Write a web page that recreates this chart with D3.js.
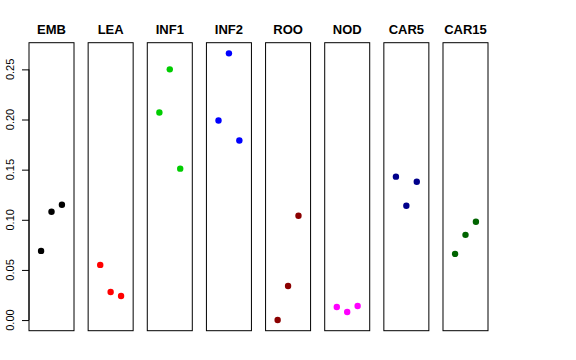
<!DOCTYPE html>
<html>
  <head>
    <meta charset="utf-8">
    <script src="https://d3js.org/d3.v7.min.js"></script>
    <style>
      body { margin: 0; background: #fff; }
      text { font-family: "Liberation Sans", Arial, sans-serif; }
      .title { font-size: 13px; font-weight: bold; }
      .tick-label { font-size: 11px; }
    </style>
  </head>
  <body>
    <svg width="576" height="360"></svg>
    <script>
      // tissues, one panel each
      const categories = ['EMB', 'LEA', 'INF1', 'INF2', 'ROO', 'NOD', 'CAR5', 'CAR15'];
      const colors = ['#000000', '#ff0000', '#00cd00', '#0000ff', '#8b0000', '#ff00ff', '#00008b', '#006400'];
      // three replicates per tissue
      const rep1 = [0.069, 0.055, 0.207, 0.199, 0.000, 0.013, 0.143, 0.066];
      const rep2 = [0.108, 0.028, 0.250, 0.266, 0.034, 0.008, 0.114, 0.085];
      const rep3 = [0.115, 0.024, 0.151, 0.179, 0.104, 0.014, 0.138, 0.098];
      const yTicks = [0, 0.05, 0.10, 0.15, 0.20, 0.25];

      const svg = d3.select('svg');

      const panelScale = d3.scaleBand()
        .domain(categories)
        .range([29, 488])
        .paddingInner(0.239)
        .paddingOuter(0);

      const yScale = d3.scaleLinear()
        .domain([-0.0106, 0.2766])
        .range([330.7, 42.7]);

      const xScale = d3.scaleLinear()
        .domain([-0.16, 4.16])
        .range([0, panelScale.bandwidth()]);

      // y axis on first panel
      const yAxisG = svg.append('g')
        .attr('transform', `translate(${panelScale(categories[0])}, 0)`);
      yAxisG.call(d3.axisLeft(yScale).tickValues(yTicks).tickSize(7).tickFormat(''))
        .call(g => g.select('.domain')
          .attr('d', `M0,${yScale(0)}V${yScale(0.25)}`)
          .attr('stroke', '#000'));
      yAxisG.selectAll('.tick line').attr('stroke', '#000');
      yAxisG.selectAll('.tick-label').data(yTicks)
        .enter().append('text')
          .attr('class', 'tick-label')
          .attr('transform', d => `translate(-15, ${yScale(d)}) rotate(-90)`)
          .attr('text-anchor', 'middle')
          .attr('fill', '#000')
          .text(d3.format('.2f'));

      const panels = svg.selectAll('.panel').data(categories)
        .enter().append('g')
          .attr('class', 'panel')
          .attr('transform', d => `translate(${panelScale(d)}, 0)`);

      panels.append('rect')
        .attr('x', 0)
        .attr('y', yScale.range()[1])
        .attr('width', panelScale.bandwidth())
        .attr('height', yScale.range()[0] - yScale.range()[1])
        .attr('fill', 'none')
        .attr('stroke', '#000');

      panels.append('text')
        .attr('class', 'title')
        .attr('x', panelScale.bandwidth() / 2)
        .attr('y', 34)
        .attr('text-anchor', 'middle')
        .text(d => d);

      panels.each(function(d, i) {
        const pts = [rep1[i], rep2[i], rep3[i]];
        d3.select(this).selectAll('circle').data(pts)
          .enter().append('circle')
            .attr('cx', (v, j) => xScale(j + 1))
            .attr('cy', v => yScale(v))
            .attr('r', 3.2)
            .attr('fill', colors[i]);
      });
    </script>
  </body>
</html>
